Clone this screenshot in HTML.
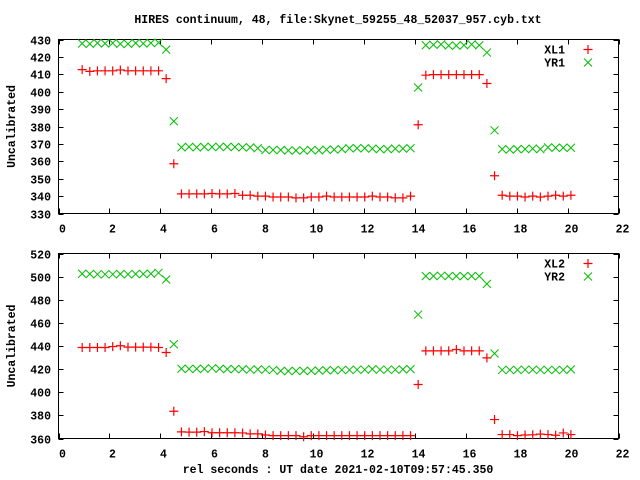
<!DOCTYPE html>
<html><head><meta charset="utf-8">
<style>
html,body{margin:0;padding:0;background:#fff;}
svg{display:block;}
text{font-family:"Liberation Mono",monospace;font-weight:bold;font-size:11.5px;fill:#000;}
</style></head>
<body>
<svg id="chart" width="640" height="480" viewBox="0 0 640 480">
<rect width="640" height="480" fill="#fff"/>
<text x="338" y="23" text-anchor="middle">HIRES continuum, 48, file:Skynet_59255_48_52037_957.cyb.txt</text>
<text x="338" y="473" text-anchor="middle">rel seconds : UT date 2021-02-10T09:57:45.350</text>
</svg>
<script>
const times=[0.93,1.23,1.53,1.83,2.13,2.43,2.73,3.03,3.33,3.63,3.93,4.23,4.53,4.83,5.13,5.43,5.73,6.03,6.33,6.63,6.93,7.23,7.53,7.83,8.13,8.43,8.73,9.03,9.33,9.63,9.93,10.23,10.53,10.83,11.13,11.43,11.73,12.03,12.33,12.63,12.93,13.23,13.53,13.83,14.13,14.43,14.73,15.03,15.33,15.63,15.93,16.23,16.53,16.83,17.13,17.43,17.73,18.03,18.33,18.63,18.93,19.23,19.53,19.83,20.13];
const xl1=[412.7,411.7,412,412,412,412.5,412,412,412,412,412,407.5,358.6,
341.3,341.3,341.3,341.3,341.5,341.3,341.3,341.5,340.5,340.5,340,340,339.5,339.5,339.5,339,339,339.5,339.5,340,339.5,339.5,339.5,339.5,339.5,340,339.5,339.5,339,339,340,
381,409.5,409.8,409.8,409.8,409.8,409.8,409.8,409.8,404.7,351.7,
340.5,340,340,339.5,340,339.5,340,340.5,340,340.5];
const yr1=[427.7,427.5,428,427.7,428,427.5,427.5,428,427.7,428,428.2,424.2,383,
368,368.3,368,368.3,368.2,368.3,368.3,368.2,368,368,367.5,366.5,366.5,366.5,366.2,366.2,366.2,366.5,366.3,366.7,366.7,367,367.5,367.5,367.5,367.3,367,367,367.3,367.3,367.5,
402.4,426.7,427,427.2,426.5,426.5,426.7,427.2,426.7,422.5,377.8,
367,366.7,367,367,367.3,367,368,367.8,367.8,367.8];
const xl2=[438.7,438.7,438.7,438.7,439.5,440.2,439,439,439,439,438.7,434.4,383.6,
365.7,365.5,365.5,366,365,365,365,365,364.8,364,364,363,362.5,362.5,362.5,362.5,361.5,362.5,362.5,362.5,362.5,362.5,362.5,362.5,362.5,362.5,362.5,362.5,362.5,362.5,362.5,
406.7,435.8,435.8,435.8,435.8,437,435.8,435.8,435.8,429.7,376.4,
363.4,363.4,362.5,363,363.2,363.8,363.4,362.8,364.8,363.4];
const yr2=[502.5,502.3,502,502,502,502.3,502,502.3,502.3,502.5,503.3,497.5,441.5,
420.3,420.2,420.2,420.2,420.8,420.3,420,420,420,419.5,419.8,419.5,419.3,418.5,418.3,418.5,418.5,418.5,418.8,419,419,419.3,419.3,419.5,419.5,420,419.5,419.5,419.5,419.8,420,
467.2,500.4,500.4,500.8,500.4,500.4,500.4,500.4,500.4,493.7,433.5,
419.3,419.3,419.3,419.5,419.5,419.3,419.3,419.3,419.3,419.8];
const xTicks=[0,2,4,6,8,10,12,14,16,18,20,22];
const yTicksTop=[330,340,350,360,370,380,390,400,410,420,430];
const yTicksBot=[360,380,400,420,440,460,480,500,520];

const NS="http://www.w3.org/2000/svg";
const svg=document.getElementById('chart');
function mk(tag,attrs,parent){const e=document.createElementNS(NS,tag);for(const k in attrs)e.setAttribute(k,attrs[k]);(parent||svg).appendChild(e);return e;}

function panel(cfg){
  const L=58.5,R=618.5,T=cfg.top,B=cfg.bottom;
  const sx=v=>L+(v-0)/(22-0)*(R-L);
  const sy=v=>B-(v-cfg.ymin)/(cfg.ymax-cfg.ymin)*(B-T);
  const g=mk('g',{});
  
  
  xTicks.forEach(t=>{
    const x=Math.round(sx(t))+0.5;
    const tk=mk('path',{d:`M${x} ${B}V${B-5}M${x} ${T}V${T+5}`,stroke:'#000','stroke-width':1},g);
    
    
    const lb=mk('text',{x:x+3,y:B+19,'text-anchor':'middle'},g);
    lb.textContent=t;
    
    
  });
  cfg.yticks.forEach(t=>{
    const y=Math.round(sy(t))+0.5;
    const tk=mk('path',{d:`M${L} ${y}H${L+5}M${R} ${y}H${R-5}`,stroke:'#000','stroke-width':1},g);
    
    
    const lb=mk('text',{x:51,y:y+4,'text-anchor':'end'},g);
    lb.textContent=t;
    
    
  });
  const fr=mk('rect',{x:L,y:T,width:R-L,height:B-T,fill:'none',stroke:'#000','stroke-width':1},g);
  
  
  const yl=mk('text',{x:0,y:0,transform:`translate(15 ${(T+B)/2}) rotate(-90)`,'text-anchor':'middle'},g);
  yl.textContent='Uncalibrated';
  
  
  function plus(x,y,p){const e=mk('path',{d:`M${x-4.5} ${y}H${x+4.5}M${x} ${y-4.5}V${y+4.5}`,stroke:'#ff0000','stroke-width':1.2,fill:'none'},p);return e;}
  function cross(x,y,p){const e=mk('path',{d:`M${x-4} ${y-4}L${x+4} ${y+4}M${x-4} ${y+4}L${x+4} ${y-4}`,stroke:'#00c000','stroke-width':1,fill:'none'},p);return e;}
  const gr=mk('g',{},g);
  
  
  const gg=mk('g',{},g);
  
  
  times.forEach((t,i)=>{
    const c=cross(sx(t),sy(cfg.green[i]),gg);
    
    
  });
  times.forEach((t,i)=>{
    const p=plus(sx(t),sy(cfg.red[i]),gr);
    
    
  });
  const lg=mk('g',{},g);
  
  
  const t1=mk('text',{x:565,y:T+14,'text-anchor':'end'},lg);
  t1.textContent=cfg.redLabel;
  
  
  const m1=plus(588,T+10,lg);
  
  
  const t2=mk('text',{x:565,y:T+27,'text-anchor':'end'},lg);
  t2.textContent=cfg.greenLabel;
  
  
  const m2=cross(588,T+23,lg);
  
  
}
panel({name:'top-panel',top:39.5,bottom:213.5,ymin:330,ymax:430,yticks:yTicksTop,red:xl1,green:yr1,redName:'xl1',greenName:'yr1',redLabel:'XL1',greenLabel:'YR1'});
panel({name:'bottom-panel',top:253.5,bottom:438.5,ymin:360,ymax:520,yticks:yTicksBot,red:xl2,green:yr2,redName:'xl2',greenName:'yr2',redLabel:'XL2',greenLabel:'YR2'});
</script>
</body></html>
